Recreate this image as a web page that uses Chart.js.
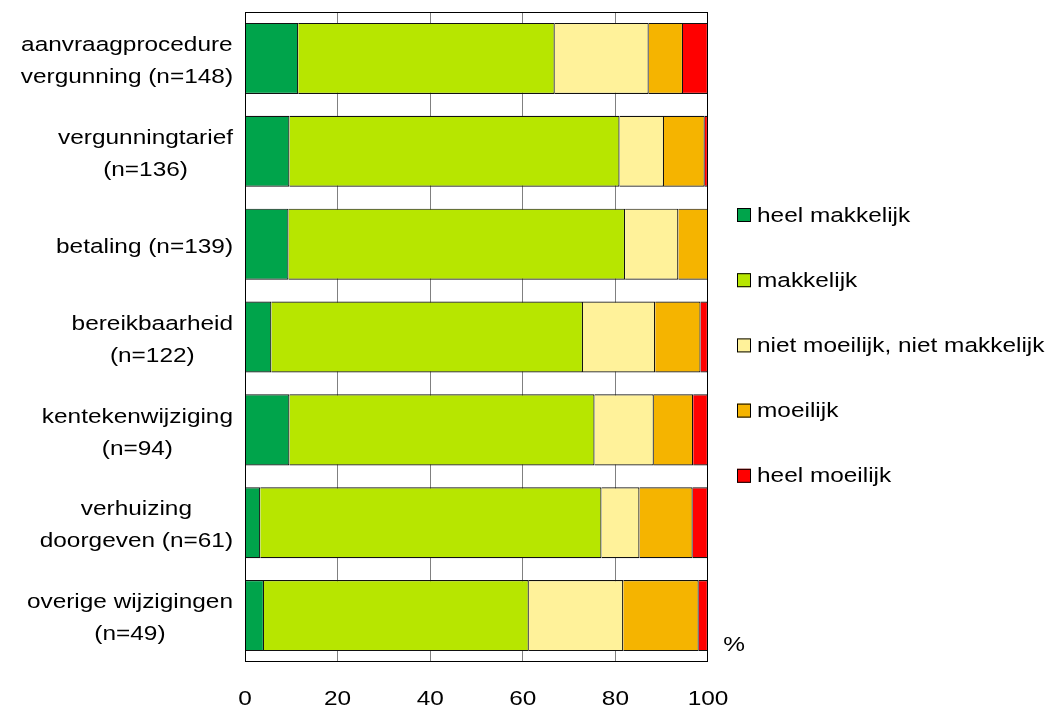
<!DOCTYPE html>
<html>
<head>
<meta charset="utf-8">
<script src="https://cdn.jsdelivr.net/npm/chart.js@4/dist/chart.umd.min.js"></script>
<style>
  html, body { margin: 0; padding: 0; background: #fff; }
  #wrap { width: 1050px; height: 712px; }
</style>
</head>
<body>
<div id="wrap"><canvas id="c" width="1050" height="712"></canvas></div>
<script>
// ---- data ----
const categories = [
  ["aanvraagprocedure", "vergunning (n=148)"],
  ["vergunningtarief", "(n=136)"],
  ["betaling (n=139)"],
  ["bereikbaarheid", "(n=122)"],
  ["kentekenwijziging", "(n=94)"],
  ["verhuizing", "doorgeven (n=61)"],
  ["overige wijzigingen", "(n=49)"]
];
const seriesNames = ["heel makkelijk", "makkelijk", "niet moeilijk, niet makkelijk", "moeilijk", "heel moeilijk"];
const heelMakkelijk = [11.5, 9.6, 9.4, 5.7, 9.6, 3.3, 4.1];
const makkelijk     = [55.4, 71.3, 72.7, 67.3, 65.9, 73.7, 57.2];
const neutraal      = [20.3, 9.6, 11.5, 15.6, 12.8, 8.2, 20.4];
const moeilijk      = [7.4, 8.8, 6.5, 9.8, 8.5, 11.5, 16.3];
const heelMoeilijk  = [5.4, 0.7, 0, 1.6, 3.2, 3.3, 2.0];
const xTickValues = [0, 20, 40, 60, 80, 100];
const unitLabel = "%";

// ---- styles ----
const colors = ["#00A44B", "#B7E600", "#FFF29A", "#F5B400", "#FF0000"];
const FONT = '20.5px "Liberation Sans", Arial, sans-serif';
const XSCALE = 1.19;

function drawText(ctx, text, x, y, align) {
  ctx.save();
  ctx.translate(x, y);
  ctx.scale(XSCALE, 1);
  ctx.font = FONT;
  ctx.fillStyle = "#000";
  ctx.textAlign = align;
  ctx.textBaseline = "middle";
  ctx.fillText(text, 0, 0);
  ctx.restore();
}
function textW(ctx, text) {
  ctx.save(); ctx.font = FONT;
  const w = ctx.measureText(text).width * XSCALE;
  ctx.restore();
  return w;
}

const textPlugin = {
  id: "textPlugin",
  afterDatasetsDraw(chart) {
    const ctx = chart.ctx;
    const a = chart.chartArea;
    ctx.save();
    ctx.strokeStyle = "#000";
    ctx.lineWidth = 1;
    ctx.strokeRect(a.left + 0.5, a.top + 0.5, a.right - a.left - 1, a.bottom - a.top - 1);
    ctx.restore();
  },
  afterDraw(chart) {
    const ctx = chart.ctx;
    const a = chart.chartArea;
    const ys = chart.scales.y, xs = chart.scales.x;
    const lineH = 32;
    categories.forEach((lines, i) => {
      const cy = ys.getPixelForValue(i) + 3;
      const maxW = Math.max(...lines.map(l => textW(ctx, l)));
      const cx = a.left - 12 - maxW / 2;
      lines.forEach((l, j) => {
        const y = cy + (j - (lines.length - 1) / 2) * lineH;
        drawText(ctx, l, cx, y, "center");
      });
    });
    xTickValues.forEach(v => {
      drawText(ctx, String(v), xs.getPixelForValue(v), a.bottom + 37, "center");
    });
    drawText(ctx, unitLabel, a.right + 26, a.bottom - 17, "center");
    chart.data.datasets.forEach((ds, i) => {
      const y = 215 + i * 65.2;
      ctx.save();
      ctx.fillStyle = ds.backgroundColor;
      ctx.fillRect(737, y - 7, 14, 14);
      ctx.strokeStyle = "#000";
      ctx.lineWidth = 1;
      ctx.strokeRect(737.5, y - 6.5, 13, 13);
      ctx.restore();
      drawText(ctx, ds.label, 757, y + 1, "left");
    });
  }
};

const seriesData = [heelMakkelijk, makkelijk, neutraal, moeilijk, heelMoeilijk];
const datasets = seriesNames.map((name, i) => ({
  label: name,
  data: seriesData[i],
  backgroundColor: colors[i],
  borderColor: "#111",
  borderWidth: 1.2,
  categoryPercentage: 1.0,
  barPercentage: 0.765
}));

new Chart(document.getElementById("c"), {
  type: "bar",
  data: { labels: categories.map(c => c.join(" ")), datasets },
  options: {
    indexAxis: "y",
    responsive: false,
    animation: false,
    devicePixelRatio: 1,
    layout: { padding: { left: 245, right: 342, top: 12, bottom: 50 } },
    plugins: { legend: { display: false }, tooltip: { enabled: false } },
    scales: {
      x: {
        stacked: true, min: 0, max: 100,
        ticks: { display: false, stepSize: 20 },
        border: { display: false },
        grid: {
          drawTicks: false,
          lineWidth: 1,
          color: (c) => (c.tick && (c.tick.value === 0 || c.tick.value === 100)) ? "rgba(0,0,0,0)" : "#808080"
        },
        afterFit: (s) => { s.height = 0; }
      },
      y: {
        stacked: true,
        ticks: { display: false },
        border: { display: false },
        grid: { display: false, drawTicks: false },
        afterFit: (s) => { s.width = 0; }
      }
    }
  },
  plugins: [textPlugin]
});
</script>
</body>
</html>
